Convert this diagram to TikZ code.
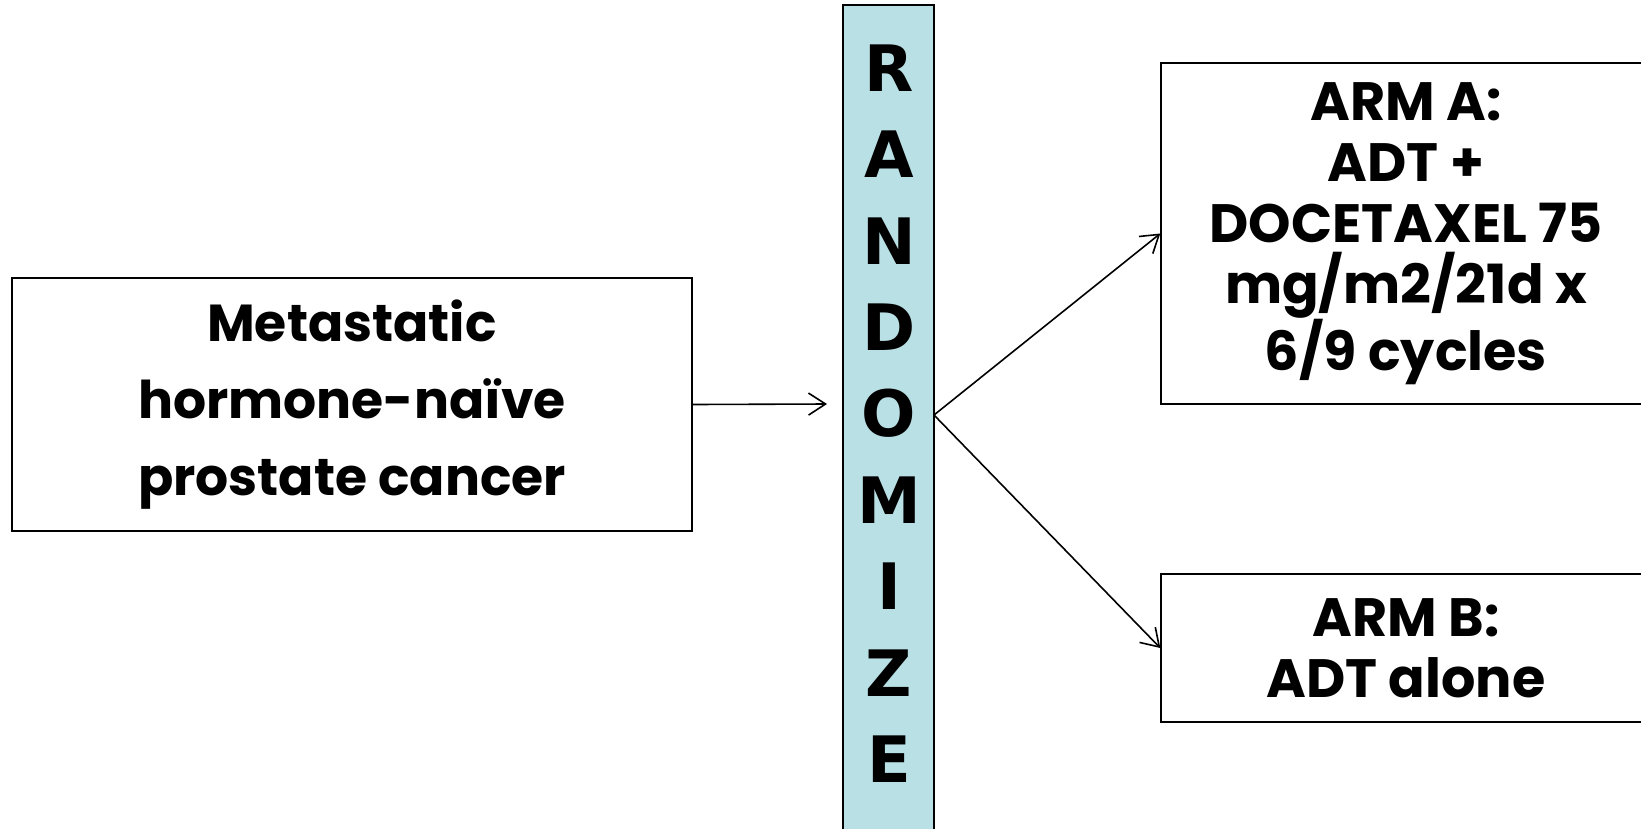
\documentclass[tikz,border=0pt]{standalone}
\usepackage{fontspec}
\setmainfont{Poppins}
\newfontfamily\barfont{DejaVu Sans}
\usetikzlibrary{arrows.meta,positioning}
\definecolor{barfill}{HTML}{B9E0E4}
\definecolor{ink}{HTML}{000000}
\tikzset{
  studybox/.style={draw=ink, line width=1.4pt, fill=white, align=center,
    inner sep=0pt, font=\fontsize{52}{77}\selectfont\bfseries},
  armbox/.style={studybox, font=\fontsize{54}{61}\selectfont\bfseries},
  randbar/.style={draw=ink, line width=1.4pt, fill=barfill, inner sep=0pt},
  barletter/.style={font=\fontsize{64}{64}\barfont\bfseries, inner sep=0pt},
  arr/.style={-{Straight Barb[length=17pt, width=22pt, line width=1.6pt]},
    line width=1.6pt, draw=ink}
}

\begin{document}
\begin{tikzpicture}[x=1pt, y=-1pt]
    \useasboundingbox (0,0) rectangle (1641,828);
    \node[studybox, minimum width=680pt, minimum height=253pt] (cancer) at (352,404.5)
      {Metastatic\\hormone-naïve\\prostate cancer};
    \node[randbar, minimum width=91pt, minimum height=840pt] (rand) at (888.5,425) {};
    \foreach \ch [count=\i from 0] in {R,A,N,D,O,M,I,Z,E}
      \node[barletter] (let\i) at (889,68+86.4*\i) {\ch};
    \node[armbox, minimum width=490pt, minimum height=341pt] (armA) at (1406,233.5)
      {ARM A:\\ADT +\\DOCETAXEL 75\\mg/m2/21d x\\6/9 cycles};
    \node[armbox, minimum width=490pt, minimum height=148pt] (armB) at (1406,648)
      {ARM B:\\ADT alone};
    \coordinate (inlet) at (827,404);
    \coordinate (split) at (934,415);
    \draw[arr] (cancer.east) -- (inlet);
    \draw[arr] (split) -- (armA.west);
    \draw[arr] (split) -- (armB.west);
  \end{tikzpicture}
\end{document}
